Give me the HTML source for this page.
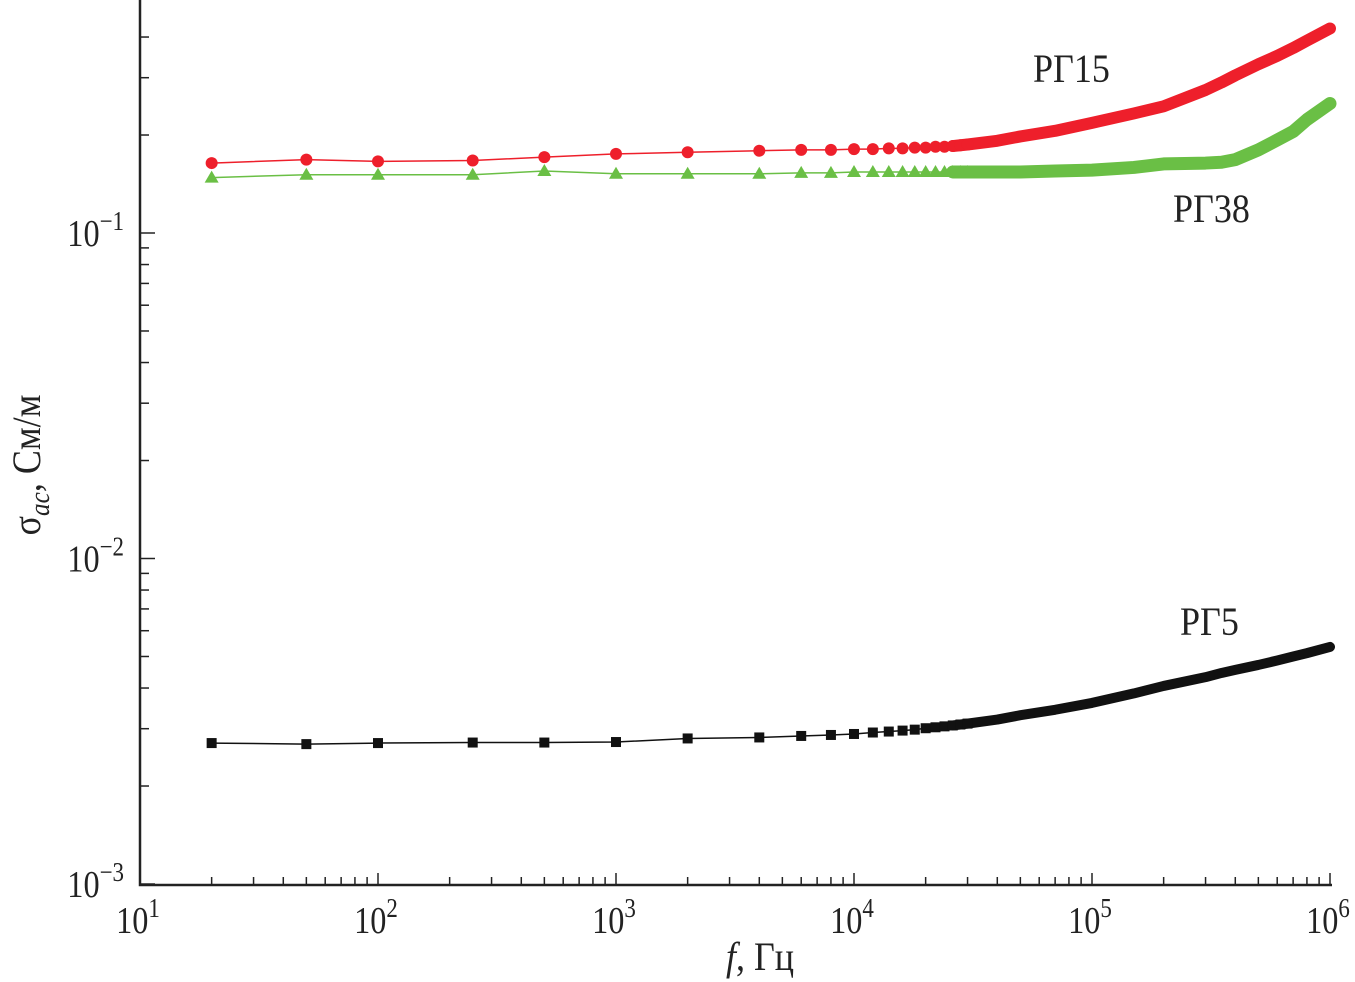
<!DOCTYPE html>
<html><head><meta charset="utf-8"><style>
body{margin:0;background:#fff}
svg{display:block;font-family:"Liberation Serif",serif}
</style></head><body>
<svg id="chart" width="1355" height="982" xmlns="http://www.w3.org/2000/svg"></svg>
<script>
const xTickExps=[1,2,3,4,5,6];
const yTickExps=[-1,-2,-3];
const freqs=[20,50,100,250,500,1000,2000,4000,6000,8000,10000,12000,14000,16000,18000,20000,22000,24000,26000,28000,30000,40000,50000,70000,100000,150000,200000,300000,350000,400000,500000,600000,700000,800000,1000000];
const rg15=[0.164,0.168,0.166,0.167,0.171,0.175,0.177,0.179,0.180,0.180,0.181,0.181,0.182,0.182,0.183,0.183,0.184,0.184,0.185,0.186,0.187,0.192,0.198,0.206,0.218,0.233,0.245,0.275,0.29,0.305,0.33,0.35,0.37,0.39,0.425];
const rg38=[0.148,0.151,0.151,0.151,0.155,0.152,0.152,0.152,0.153,0.153,0.154,0.154,0.154,0.154,0.154,0.154,0.154,0.154,0.154,0.154,0.154,0.154,0.154,0.155,0.156,0.159,0.163,0.164,0.165,0.168,0.18,0.193,0.205,0.223,0.25];
const rg5=[0.00271,0.00269,0.00271,0.00272,0.00272,0.00273,0.00280,0.00282,0.00285,0.00287,0.00289,0.00292,0.00294,0.00296,0.00298,0.00301,0.00303,0.00305,0.00307,0.00309,0.00311,0.00320,0.00330,0.00343,0.00360,0.00385,0.00406,0.00432,0.00445,0.00455,0.00471,0.00486,0.00500,0.00512,0.00535];
const NS="http://www.w3.org/2000/svg";
const svg=document.getElementById('chart');
const X0=140,XD=238,Y1=233,YD=325.5,AXY=885;
function xs(f){return X0+(Math.log10(f)-1)*XD;}
function ys(v){return Y1-(Math.log10(v)+1)*YD;}
function mk(tag,attrs){const e=document.createElementNS(NS,tag);for(const k in attrs)e.setAttribute(k,attrs[k]);svg.appendChild(e);return e;}
let a=mk('path',{d:`M${X0} 0 V${AXY} H1332`,fill:'none',stroke:'#222','stroke-width':2.5});


for(let e=1;e<=6;e++){
  for(let m=1;m<10;m++){
    if(e===6&&m>1)break;
    const f=m*Math.pow(10,e);
    const L=(m===1)?12:8;
    const t=mk('line',{x1:xs(f),x2:xs(f),y1:AXY,y2:AXY-L,stroke:'#222','stroke-width':1.5});
    
    
  }
}
xTickExps.forEach(e=>{
  const cx=xs(Math.pow(10,e))-2;
  const t=mk('text',{x:0,y:0,'font-size':38,'text-anchor':'middle',fill:'#222',transform:`translate(${cx},933) scale(0.85,1)`});
  t.innerHTML=`10<tspan dy="-16" font-size="27">${e}</tspan>`;
  
  
});
for(let e=-3;e<=-1;e++){
  for(let m=1;m<10;m++){
    const v=m*Math.pow(10,e);
    const y=ys(v); if(y<10)continue;
    const L=(m===1)?15:9;
    const t=mk('line',{x1:X0,x2:X0+L,y1:y,y2:y,stroke:'#222','stroke-width':1.5});
    
    
  }
}
yTickExps.forEach(e=>{
  const t=mk('text',{x:0,y:0,'font-size':38,'text-anchor':'end',fill:'#222',transform:`translate(124,${ys(Math.pow(10,e))+13}) scale(0.85,1)`});
  t.innerHTML=`10<tspan dy="-16" font-size="27">\u2212${-e}</tspan>`;
  
  
});
let xt=mk('text',{x:0,y:0,'font-size':40,'text-anchor':'middle',fill:'#222',transform:'translate(760,970) scale(0.9,1)'});
xt.innerHTML='<tspan font-style="italic">f</tspan>, Гц';


let yt=mk('text',{x:0,y:0,'font-size':40,'text-anchor':'middle',fill:'#222',transform:'translate(40,465) rotate(-90) scale(0.9,1)'});
yt.innerHTML='σ<tspan font-style="italic" font-size="28" dy="9">ac</tspan><tspan dy="-9">, См/м</tspan>';


function series(vals,color,shape,name,thick){
  const g=mk('g',{});
  
  
  const pts=freqs.map((f,i)=>xs(f)+','+ys(vals[i]));
  const ln=document.createElementNS(NS,'polyline');
  ln.setAttribute('points',pts.join(' '));ln.setAttribute('fill','none');ln.setAttribute('stroke',color);ln.setAttribute('stroke-width',1.5);
  g.appendChild(ln);
  const dense=freqs.map((f,i)=>[f,vals[i]]).filter(p=>p[0]>=26000).map(p=>xs(p[0])+','+ys(p[1]));
  const th=document.createElementNS(NS,'polyline');
  th.setAttribute('points',dense.join(' '));th.setAttribute('fill','none');th.setAttribute('stroke',color);th.setAttribute('stroke-width',thick);th.setAttribute('stroke-linecap','round');th.setAttribute('stroke-linejoin','round');
  
  
  g.appendChild(th);
  freqs.forEach((f,i)=>{
    if(f>30000)return;
    const x=xs(f),y=ys(vals[i]);let m;
    if(shape==='circle'){m=document.createElementNS(NS,'circle');m.setAttribute('cx',x);m.setAttribute('cy',y);m.setAttribute('r',6);}
    else if(shape==='tri'){m=document.createElementNS(NS,'polygon');m.setAttribute('points',`${x},${y-7} ${x-7},${y+5} ${x+7},${y+5}`);}
    else{m=document.createElementNS(NS,'rect');m.setAttribute('x',x-5);m.setAttribute('y',y-5);m.setAttribute('width',10);m.setAttribute('height',10);}
    m.setAttribute('fill',color);
    
    
    g.appendChild(m);
  });
  svg.appendChild(g);
}
series(rg38,'#6abf45','tri','series-rg38',13);
series(rg15,'#ee1f2b','circle','series-rg15',12);
series(rg5,'#111','square','series-rg5',10);
[['РГ15',1033,82,'label-rg15'],['РГ38',1173,222,'label-rg38'],['РГ5',1180,635,'label-rg5']].forEach(l=>{
  const t=mk('text',{x:0,y:0,'font-size':40,fill:'#222',transform:`translate(${l[1]},${l[2]}) scale(0.9,1)`});
  t.textContent=l[0];
  
  
});
</script>
</body></html>
